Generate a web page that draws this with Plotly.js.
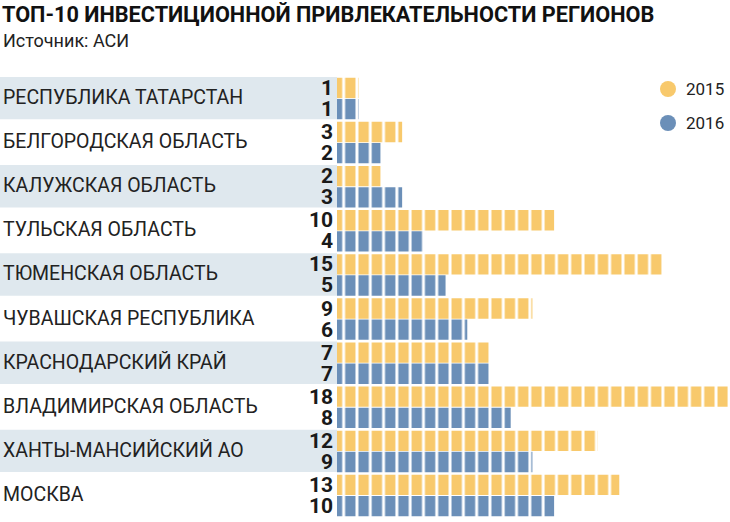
<!DOCTYPE html>
<html>
<head>
<meta charset="utf-8">
<script src="https://cdn.plot.ly/plotly-3.0.1.min.js"></script>
<style>html,body{margin:0;padding:0;background:#fff;}#chart{width:730px;height:522px;}</style>
</head>
<body>
<div id="chart"></div>
<script>
var regions = ["РЕСПУБЛИКА ТАТАРСТАН","БЕЛГОРОДСКАЯ ОБЛАСТЬ","КАЛУЖСКАЯ ОБЛАСТЬ","ТУЛЬСКАЯ ОБЛАСТЬ","ТЮМЕНСКАЯ ОБЛАСТЬ","ЧУВАШСКАЯ РЕСПУБЛИКА","КРАСНОДАРСКИЙ КРАЙ","ВЛАДИМИРСКАЯ ОБЛАСТЬ","ХАНТЫ-МАНСИЙСКИЙ АО","МОСКВА"];
var rank2015 = [1,3,2,10,15,9,7,18,12,13];
var rank2016 = [1,2,3,4,5,6,7,8,9,10];
var seriesNames = ["2015","2016"];
var titleText = "ТОП-10 ИНВЕСТИЦИОННОЙ ПРИВЛЕКАТЕЛЬНОСТИ РЕГИОНОВ";
var subtitleText = "Источник: АСИ";

var YELLOW = "#f8c96c", BLUE = "#6b8fb8", BAND = "#dfe8ee";
var W = 730, H = 522, MT = 74, MB = 2;
var xDomainStart = 337 / W;
function py(p) { return (H - MB - p) / (H - MT - MB); }
function px(p) { return p / W; }

function barTrace(vals, name, color) {
  return {
    type: "bar", orientation: "h", name: name,
    x: vals, y: regions,
    marker: {color: color, pattern: {shape: "|", fillmode: "replace", bgcolor: color, fgcolor: "#ffffff", size: 13.3, solidity: 0.22}, line: {width: 0}},
    hoverinfo: "x+y"
  };
}

var data = [barTrace(rank2015, seriesNames[0], YELLOW), barTrace(rank2016, seriesNames[1], BLUE)];

var shapes = [];
var annotations = [];
var numFont = {family: "Roboto", size: 21, color: "#1a1a1a", weight: "bold"};
regions.forEach(function(r, i) {
  if (i % 2 === 0) {
    shapes.push({type: "rect", xref: "paper", yref: "y", x0: 0, x1: xDomainStart, y0: i - 0.49, y1: i + 0.47, fillcolor: BAND, line: {width: 0}, layer: "below"});
  }
  annotations.push({xref: "paper", yref: "y", x: px(1), y: r, xanchor: "left", yanchor: "middle", yshift: 1, text: r, showarrow: false, font: {family: "Roboto", size: 19.5, color: "#222"}});
  annotations.push({xref: "x", yref: "y", x: 0, y: r, xanchor: "right", yanchor: "middle", xshift: -2, yshift: 10.5, text: String(rank2015[i]), showarrow: false, font: numFont});
  annotations.push({xref: "x", yref: "y", x: 0, y: r, xanchor: "right", yanchor: "middle", xshift: -2, yshift: -10.5, text: String(rank2016[i]), showarrow: false, font: numFont});
});

// title and subtitle
annotations.push({xref: "paper", yref: "paper", x: 0, y: py(14), xanchor: "left", yanchor: "middle", text: "<b>" + titleText + "</b>", showarrow: false, font: {family: "Roboto", size: 21.7, color: "#111"}});
annotations.push({xref: "paper", yref: "paper", x: px(1), y: py(40), xanchor: "left", yanchor: "middle", text: subtitleText, showarrow: false, font: {family: "Roboto", size: 18, color: "#222"}});

// legend
var legendColors = [YELLOW, BLUE];
var legendY = [89, 123];
seriesNames.forEach(function(n, k) {
  var cy = legendY[k];
  shapes.push({type: "circle", xref: "paper", yref: "paper", x0: px(660), x1: px(676), y0: py(cy + 8), y1: py(cy - 8), fillcolor: legendColors[k], line: {width: 0}});
  annotations.push({xref: "paper", yref: "paper", x: px(684), y: py(cy), xanchor: "left", yanchor: "middle", text: n, showarrow: false, font: {family: "Roboto", size: 17, color: "#222"}});
});

var layout = {
  width: W, height: H,
  margin: {l: 0, r: 0, t: MT, b: MB, pad: 0},
  paper_bgcolor: "#ffffff", plot_bgcolor: "rgba(0,0,0,0)",
  barmode: "group", bargap: 0.04, bargroupgap: 0.04,
  showlegend: false,
  xaxis: {domain: [xDomainStart, 1], range: [0, 18.1], showgrid: false, zeroline: false, showticklabels: false, ticks: "", fixedrange: true},
  yaxis: {type: "category", autorange: "reversed", showgrid: false, zeroline: false, showticklabels: false, ticks: "", fixedrange: true},
  shapes: shapes,
  annotations: annotations
};

Plotly.newPlot("chart", data, layout, {displayModeBar: false, staticPlot: true});
</script>
</body>
</html>
